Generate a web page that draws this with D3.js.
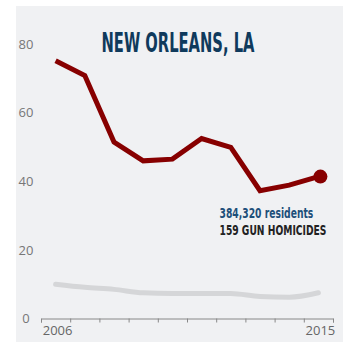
<!DOCTYPE html>
<html>
<head>
<meta charset="utf-8">
<script src="https://cdnjs.cloudflare.com/ajax/libs/d3/7.8.5/d3.min.js"></script>
<style>
  html, body { margin: 0; padding: 0; background: #fff; }
  svg { display: block; }
</style>
</head>
<body>
<svg id="chart" width="347" height="344"></svg>
<script>
// Gun homicides per 100,000 residents
const years = [2006, 2007, 2008, 2009, 2010, 2011, 2012, 2013, 2014, 2015];
const cityRate = [75.2, 70.9, 51.5, 46.0, 46.5, 52.5, 49.9, 37.3, 38.9, 41.4];
const nationalRate = [10.0, 9.1, 8.5, 7.5, 7.3, 7.3, 7.3, 6.4, 6.2, 7.5];
const yTicks = [0, 20, 40, 60, 80];
const xLabels = [2006, 2015];
const title = "NEW ORLEANS, LA";
const noteResidents = "384,320 residents";
const noteHomicides = "159 GUN HOMICIDES";

const narrow = "'Liberation Sans Narrow', 'DejaVu Sans Condensed', sans-serif";
const svg = d3.select("#chart");

svg.append("rect")
  .attr("x", 16).attr("y", 6)
  .attr("width", 327).attr("height", 336)
  .attr("fill", "#f0f1f3");

const x = d3.scaleLinear().domain([2005.5, 2015.5]).range([41, 333]);
const y = d3.scaleLinear().domain([0, 80]).range([318.5, 44.3]);

// y tick labels (no axis line)
svg.append("g").selectAll("text")
  .data(yTicks).join("text")
  .attr("x", 26)
  .attr("y", d => y(d))
  .attr("dy", "0.35em")
  .attr("text-anchor", "middle")
  .attr("font-family", "'Open Sans', sans-serif")
  .attr("font-size", 13)
  .attr("fill", "#777")
  .text(d => d);

// x axis: ticks at year boundaries, labels at first and last year
const boundaries = d3.range(years.length + 1).map(i => 2005.5 + i);
const xAxis = svg.append("g")
  .attr("transform", `translate(0,${y(0)})`)
  .call(d3.axisBottom(x).tickValues(boundaries).tickFormat("").tickSize(4).tickSizeOuter(4));
xAxis.select(".domain").attr("stroke", "#888");
xAxis.selectAll(".tick line").attr("stroke", "#888");

svg.append("g").selectAll("text")
  .data(xLabels).join("text")
  .attr("x", d => x(d) + 2)
  .attr("y", 335)
  .attr("text-anchor", "middle")
  .attr("font-family", "'Open Sans', sans-serif")
  .attr("font-size", 13)
  .attr("fill", "#666")
  .text(d => d);

// national comparison line
svg.append("path")
  .datum(years.map((yr, i) => [yr, nationalRate[i]]))
  .attr("fill", "none")
  .attr("stroke", "#d5d6d8")
  .attr("stroke-width", 5)
  .attr("stroke-linecap", "round")
  .attr("d", d3.line().x(d => x(d[0])).y(d => y(d[1])).curve(d3.curveMonotoneX));

// city line
const cityData = years.map((yr, i) => [yr, cityRate[i]]);
svg.append("path")
  .datum(cityData)
  .attr("fill", "none")
  .attr("stroke", "#870000")
  .attr("stroke-width", 5)
  .attr("stroke-linejoin", "miter")
  .attr("d", d3.line().x(d => x(d[0])).y(d => y(d[1])));

const last = cityData[cityData.length - 1];
svg.append("circle")
  .attr("cx", x(last[0]) + 2)
  .attr("cy", y(last[1]))
  .attr("r", 7)
  .attr("fill", "#870000");

// condensed label squeezed horizontally to a target width
function fitText(str, left, baseline, width, size, color) {
  const t = svg.append("text")
    .attr("font-family", narrow)
    .attr("font-weight", "bold")
    .attr("font-size", size)
    .attr("fill", color)
    .text(str);
  const w = t.node().getComputedTextLength();
  const k = w > 0 ? width / w : 1;
  t.attr("transform", `translate(${left},${baseline}) scale(${k},1)`);
  return t;
}

fitText(title, 101.5, 52, 153, 26, "#0f3a5c");
fitText(noteResidents, 219.5, 217.5, 94, 14, "#1d4f7a");
fitText(noteHomicides, 219.5, 235, 107, 14, "#222");
</script>
</body>
</html>
